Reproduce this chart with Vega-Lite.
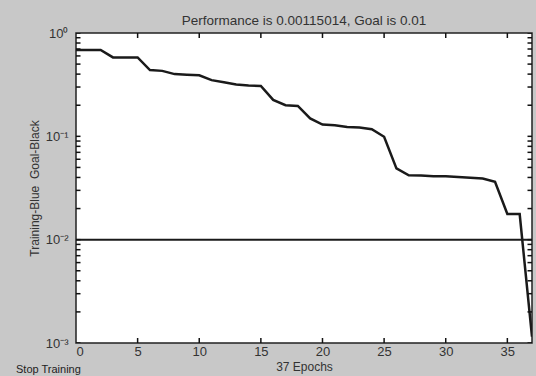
{
  "$schema": "https://vega.github.io/schema/vega-lite/v6.json",
  "autosize": "none",
  "width": 456,
  "height": 310,
  "padding": {"left": 76, "top": 33, "right": 4, "bottom": 33},
  "background": "#c8c8c8",
  "config": {
    "font": "Liberation Sans",
    "view": {"stroke": "#222", "strokeWidth": 1.5, "fill": "white"},
    "axis": {"domain": false, "grid": false, "ticks": false, "tickSize": 0, "labelFont": "Liberation Sans", "titleFont": "Liberation Sans", "labelColor": "#333", "titleColor": "#333", "titleFontWeight": "normal"}
  },
  "title": {"text": "Performance is 0.00115014, Goal is 0.01", "fontSize": 13.5, "fontWeight": "normal", "color": "#333", "offset": 0, "anchor": "middle"},
  "datasets": {
    "perf": [
      {"epoch": 0, "value": 0.684}, {"epoch": 1, "value": 0.684}, {"epoch": 2, "value": 0.684},
      {"epoch": 3, "value": 0.58}, {"epoch": 4, "value": 0.58}, {"epoch": 5, "value": 0.58},
      {"epoch": 6, "value": 0.438}, {"epoch": 7, "value": 0.43}, {"epoch": 8, "value": 0.40},
      {"epoch": 9, "value": 0.395}, {"epoch": 10, "value": 0.39}, {"epoch": 11, "value": 0.35},
      {"epoch": 12, "value": 0.333}, {"epoch": 13, "value": 0.318}, {"epoch": 14, "value": 0.31},
      {"epoch": 15, "value": 0.307}, {"epoch": 16, "value": 0.225}, {"epoch": 17, "value": 0.20},
      {"epoch": 18, "value": 0.197}, {"epoch": 19, "value": 0.149}, {"epoch": 20, "value": 0.13},
      {"epoch": 21, "value": 0.128}, {"epoch": 22, "value": 0.123}, {"epoch": 23, "value": 0.122},
      {"epoch": 24, "value": 0.117}, {"epoch": 25, "value": 0.099}, {"epoch": 26, "value": 0.049},
      {"epoch": 27, "value": 0.042}, {"epoch": 28, "value": 0.0418}, {"epoch": 29, "value": 0.041},
      {"epoch": 30, "value": 0.041}, {"epoch": 31, "value": 0.0405}, {"epoch": 32, "value": 0.0398},
      {"epoch": 33, "value": 0.039}, {"epoch": 34, "value": 0.0363}, {"epoch": 35, "value": 0.0177},
      {"epoch": 36, "value": 0.0177}, {"epoch": 37, "value": 0.00115}
    ],
    "goal": [{"epoch": 0, "value": 0.01}, {"epoch": 37, "value": 0.01}],
    "yticks": [
      {"value": 0.001}, {"value": 0.002}, {"value": 0.003}, {"value": 0.004}, {"value": 0.005}, {"value": 0.006}, {"value": 0.007}, {"value": 0.008}, {"value": 0.009},
      {"value": 0.01}, {"value": 0.02}, {"value": 0.03}, {"value": 0.04}, {"value": 0.05}, {"value": 0.06}, {"value": 0.07}, {"value": 0.08}, {"value": 0.09},
      {"value": 0.1}, {"value": 0.2}, {"value": 0.3}, {"value": 0.4}, {"value": 0.5}, {"value": 0.6}, {"value": 0.7}, {"value": 0.8}, {"value": 0.9}, {"value": 1}
    ],
    "xticks": [{"epoch": 5}, {"epoch": 10}, {"epoch": 15}, {"epoch": 20}, {"epoch": 25}, {"epoch": 30}, {"epoch": 35}],
    "button": [{"epoch": 0, "value": 0.001, "label": "Stop Training"}]
  },
  "resolve": {"axis": {"x": "independent", "y": "independent"}},
  "layer": [
    {
      "data": {"name": "perf"},
      "mark": {"type": "line", "color": "#1a1a1a", "strokeWidth": 2.5, "clip": true},
      "encoding": {
        "x": {"field": "epoch", "type": "quantitative",
              "scale": {"domain": [0, 37], "nice": false, "zero": false},
              "axis": {"values": [0, 5, 10, 15, 20, 25, 30, 35], "labelFontSize": 13, "labelPadding": 2, "title": "37 Epochs", "titleFontSize": 12, "titlePadding": 3}},
        "y": {"field": "value", "type": "quantitative",
              "scale": {"type": "log", "domain": [0.001, 1], "nice": false},
              "axis": {"values": [0.001, 0.01, 0.1, 1],
                       "labelExpr": "datum.value == 1 ? '10⁰' : datum.value == 0.1 ? '10⁻¹' : datum.value == 0.01 ? '10⁻²' : datum.value == 0.001 ? '10⁻³' : ''",
                       "labelFontSize": 13, "labelPadding": 8, "title": "Training-Blue\u00a0\u00a0Goal-Black", "titleFontSize": 12, "titlePadding": 4}}
      }
    },
    {
      "data": {"name": "goal"},
      "mark": {"type": "line", "color": "#1a1a1a", "strokeWidth": 2},
      "encoding": {
        "x": {"field": "epoch", "type": "quantitative", "axis": null},
        "y": {"field": "value", "type": "quantitative", "axis": null}
      }
    },
    {
      "data": {"name": "yticks"},
      "mark": {"type": "tick", "orient": "horizontal", "color": "#111", "size": 9, "thickness": 1.5, "opacity": 1, "clip": true},
      "encoding": {
        "x": {"datum": 0, "type": "quantitative", "axis": null},
        "y": {"field": "value", "type": "quantitative", "axis": null}
      }
    },
    {
      "data": {"name": "yticks"},
      "mark": {"type": "tick", "orient": "horizontal", "color": "#111", "size": 9, "thickness": 1.5, "opacity": 1, "clip": true},
      "encoding": {
        "x": {"datum": 37, "type": "quantitative", "axis": null},
        "y": {"field": "value", "type": "quantitative", "axis": null}
      }
    },
    {
      "data": {"name": "xticks"},
      "mark": {"type": "tick", "orient": "vertical", "color": "#111", "size": 10, "thickness": 1.5, "opacity": 1, "clip": true},
      "encoding": {
        "x": {"field": "epoch", "type": "quantitative", "axis": null},
        "y": {"datum": 0.001, "type": "quantitative", "axis": null}
      }
    },
    {
      "data": {"name": "xticks"},
      "mark": {"type": "tick", "orient": "vertical", "color": "#111", "size": 10, "thickness": 1.5, "opacity": 1, "clip": true},
      "encoding": {
        "x": {"field": "epoch", "type": "quantitative", "axis": null},
        "y": {"datum": 1, "type": "quantitative", "axis": null}
      }
    },
    {
      "data": {"name": "button"},
      "mark": {"type": "text", "align": "left", "baseline": "middle", "dx": -60, "dy": 27, "fontSize": 11, "color": "#222"},
      "encoding": {
        "x": {"field": "epoch", "type": "quantitative", "axis": null},
        "y": {"field": "value", "type": "quantitative", "axis": null},
        "text": {"field": "label"}
      }
    }
  ]
}
